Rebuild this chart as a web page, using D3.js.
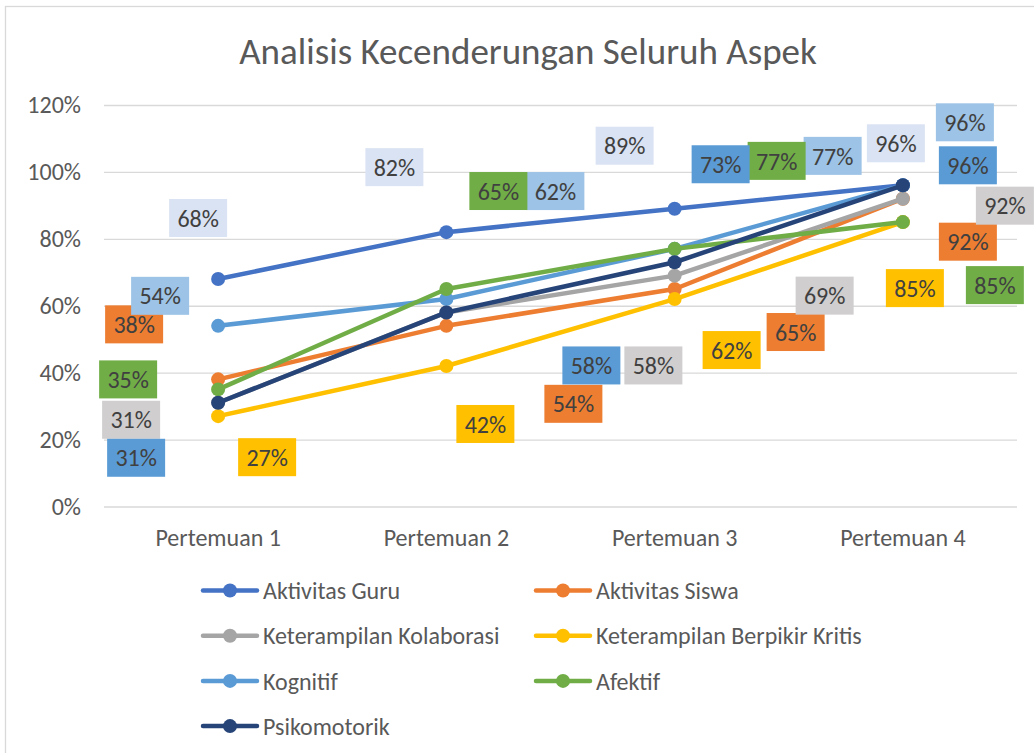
<!DOCTYPE html>
<html lang="en">
<head>
<meta charset="UTF-8"/>
<title>Analisis Kecenderungan Seluruh Aspek</title>
<script src="https://d3js.org/d3.v7.min.js"></script>
<style>
    body { margin: 0; background: #fff; }
    svg { display: block; font-family: Carlito, Calibri, Lato, sans-serif; }
</style>
</head>
<body>
<script>
    var w = 1034;
    var h = 753;

    // data
    var categories = ["Pertemuan 1", "Pertemuan 2", "Pertemuan 3", "Pertemuan 4"];
    var seriesNames = ["Aktivitas Guru", "Aktivitas Siswa", "Keterampilan Kolaborasi",
                       "Keterampilan Berpikir Kritis", "Kognitif", "Afektif", "Psikomotorik"];
    var aktivitasGuru = [68, 82, 89, 96];
    var aktivitasSiswa = [38, 54, 65, 92];
    var kolaborasi = [31, 58, 69, 92];
    var berpikirKritis = [27, 42, 62, 85];
    var kognitif = [54, 62, 77, 96];
    var afektif = [35, 65, 77, 85];
    var psikomotorik = [31, 58, 73, 96];
    var yTicks = [0, 20, 40, 60, 80, 100, 120];

    var seriesValues = [aktivitasGuru, aktivitasSiswa, kolaborasi, berpikirKritis,
                        kognitif, afektif, psikomotorik];

    // styles
    var lineColors = ["#4472C4", "#ED7D31", "#A5A5A5", "#FFC000", "#5B9BD5", "#70AD47", "#264478"];
    var labelFills = ["#DAE3F3", "#ED7D31", "#D0CECE", "#FFC000", "#9DC3E6", "#70AD47", "#5B9BD5"];

    // where each data label was dragged to (pixels from its point)
    var labelOffsets = [
        [[-20, -61], [-52, -65], [-50, -63], [-7, -42]],
        [[-84, -55], [127, 78], [121, 43], [65, 43]],
        [[-87, 17], [207, 53], [150, 20], [102, 7]],
        [[49, 41], [39, 58], [57, 51], [12, 66]],
        [[-58, -30], [109, -108], [158, -93], [62, -63]],
        [[-90, -10], [52, -98], [102, -88], [92, 63]],
        [[-82, 55], [145, 53], [46, -98], [65, -20]]
    ];

    var plotLeft = 104, plotRight = 1017, plotTop = 105, plotBottom = 506.5;
    var fontSize = 24;

    var xScale = d3.scaleBand()
                .domain(categories)
                .range([plotLeft, plotRight]);

    var yScale = d3.scaleLinear()
                .domain([0, 120])
                .range([plotBottom, plotTop]);

    function xc(c) { return xScale(c) + xScale.bandwidth() / 2; }

    var svg = d3.select("body")
                .append("svg")
                .attr("width", w)
                .attr("height", h);

    // chart frame
    svg.append("rect")
        .attr("x", 5.5).attr("y", 6.5)
        .attr("width", 1100).attr("height", 800)
        .attr("fill", "#fff")
        .attr("stroke", "#D9D9D9")
        .attr("stroke-width", 1.3);

    svg.append("text")
        .attr("x", 528)
        .attr("y", 64)
        .attr("text-anchor", "middle")
        .attr("font-size", 37)
        .attr("fill", "#595959")
        .text("Analisis Kecenderungan Seluruh Aspek");

    var yAxis = d3.axisLeft(yScale)
                .tickValues(yTicks)
                .tickSize(-(plotRight - plotLeft))
                .tickPadding(23)
                .tickFormat(function(d) { return d + "%"; });

    var gy = svg.append("g")
        .attr("transform", "translate(" + plotLeft + ",0)")
        .call(yAxis);
    gy.select(".domain").remove();
    gy.selectAll("line").attr("stroke", "#D9D9D9").attr("stroke-width", 1.3);
    gy.selectAll("text").attr("font-size", fontSize).attr("fill", "#595959")
        .attr("font-family", "Carlito, Calibri, Lato, sans-serif");

    var xAxis = d3.axisBottom(xScale).tickSize(0).tickPadding(22);
    var gx = svg.append("g")
        .attr("transform", "translate(0," + plotBottom + ")")
        .call(xAxis);
    gx.select(".domain").remove();
    gx.selectAll("text").attr("font-size", fontSize).attr("fill", "#595959")
        .attr("font-family", "Carlito, Calibri, Lato, sans-serif");

    var line = d3.line()
                .x(function(d, i) { return xc(categories[i]); })
                .y(function(d) { return yScale(d); });

    seriesValues.forEach(function(vals, s) {
        svg.append("path")
            .attr("d", line(vals))
            .attr("fill", "none")
            .attr("stroke", lineColors[s])
            .attr("stroke-width", 4.5)
            .attr("stroke-linejoin", "round")
            .attr("stroke-linecap", "round");

        svg.selectAll(".dot" + s)
            .data(vals)
            .enter()
            .append("circle")
            .attr("cx", function(d, i) { return xc(categories[i]); })
            .attr("cy", function(d) { return yScale(d); })
            .attr("r", 7)
            .attr("fill", lineColors[s]);
    });

    // data labels
    seriesValues.forEach(function(vals, s) {
        var g = svg.selectAll(".lab" + s)
            .data(vals)
            .enter()
            .append("g")
            .attr("transform", function(d, i) {
                var px = xc(categories[i]) + labelOffsets[s][i][0];
                var py = yScale(d) + labelOffsets[s][i][1];
                return "translate(" + px + "," + py + ")";
            });
        g.append("rect")
            .attr("x", -29).attr("y", -19)
            .attr("width", 58).attr("height", 38)
            .attr("fill", labelFills[s]);
        g.append("text")
            .attr("text-anchor", "middle")
            .attr("dy", "0.36em")
            .attr("font-size", fontSize)
            .attr("fill", "#404040")
            .text(function(d) { return d + "%"; });
    });

    // legend
    var legend = svg.selectAll(".legend")
        .data(seriesNames)
        .enter()
        .append("g")
        .attr("transform", function(d, i) {
            var lx = (i % 2 === 0) ? 203 : 536;
            var ly = 590.5 + Math.floor(i / 2) * 45.2;
            return "translate(" + lx + "," + ly + ")";
        });
    legend.append("line")
        .attr("x1", 0).attr("x2", 54)
        .attr("stroke", function(d, i) { return lineColors[i]; })
        .attr("stroke-width", 4.5)
        .attr("stroke-linecap", "round");
    legend.append("circle")
        .attr("cx", 27).attr("r", 7)
        .attr("fill", function(d, i) { return lineColors[i]; });
    legend.append("text")
        .attr("x", 60)
        .attr("dy", "0.36em")
        .attr("font-size", fontSize)
        .attr("fill", "#595959")
        .text(function(d) { return d; });
</script>
</body>
</html>
